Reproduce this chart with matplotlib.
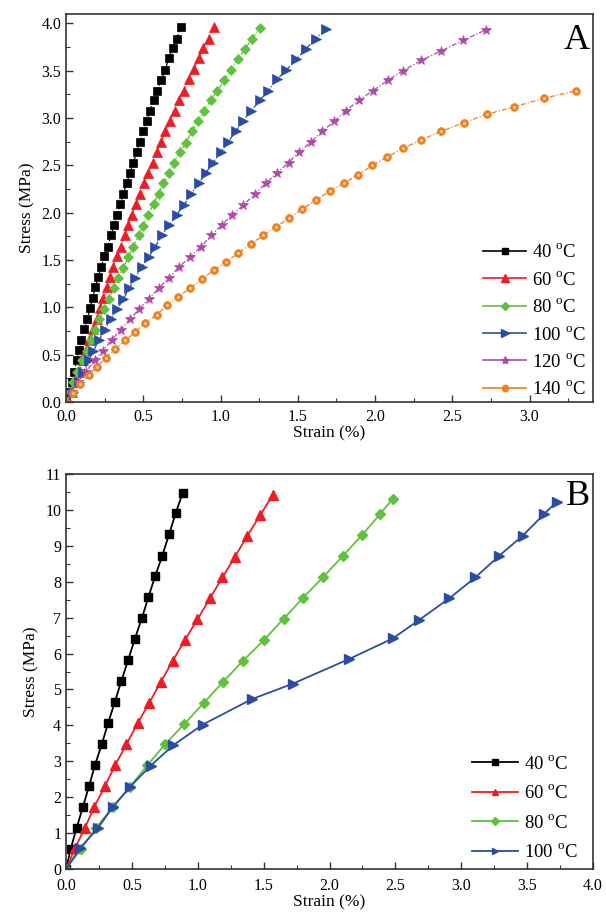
import matplotlib
matplotlib.use("Agg")
import matplotlib.pyplot as plt
from matplotlib.lines import Line2D
from matplotlib.ticker import MultipleLocator, FormatStrFormatter

plt.rcParams['font.family'] = ['Liberation Serif', 'DejaVu Serif']
plt.rcParams['mathtext.fontset'] = 'custom'
plt.rcParams['mathtext.rm'] = 'Liberation Serif'

# ---- panel A: stress-strain at six temperatures ----
a_40_x = [0, 0.021, 0.037, 0.052, 0.069, 0.086, 0.099, 0.116, 0.138, 0.155, 0.172, 0.190, 0.207,
          0.228, 0.248, 0.269, 0.291, 0.312, 0.332, 0.351, 0.371, 0.392, 0.414, 0.435, 0.457,
          0.478, 0.500, 0.521, 0.543, 0.569, 0.590, 0.616, 0.642, 0.664, 0.690, 0.716, 0.741]
a_40_y = [0, 0.11, 0.21, 0.32, 0.44, 0.55, 0.66, 0.77, 0.88, 0.99, 1.10, 1.21, 1.32, 1.43, 1.54,
          1.64, 1.76, 1.87, 1.98, 2.09, 2.20, 2.31, 2.42, 2.53, 2.64, 2.75, 2.86, 2.97, 3.08,
          3.19, 3.29, 3.40, 3.51, 3.63, 3.74, 3.84, 3.96]

a_60_x = [0, 0.039, 0.065, 0.086, 0.108, 0.129, 0.151, 0.177, 0.198, 0.220, 0.241, 0.263, 0.284,
          0.306, 0.328, 0.353, 0.379, 0.403, 0.425, 0.452, 0.478, 0.504, 0.530, 0.560, 0.586,
          0.616, 0.642, 0.672, 0.702, 0.733, 0.763, 0.793, 0.827, 0.858, 0.888, 0.922, 0.957]
a_60_y = [0, 0.11, 0.21, 0.32, 0.44, 0.55, 0.66, 0.77, 0.88, 0.99, 1.10, 1.21, 1.32, 1.43, 1.54,
          1.64, 1.76, 1.87, 1.98, 2.09, 2.20, 2.31, 2.42, 2.53, 2.64, 2.75, 2.86, 2.97, 3.08,
          3.19, 3.29, 3.41, 3.52, 3.63, 3.74, 3.84, 3.96]

a_80_x = [0, 0.026, 0.047, 0.073, 0.103, 0.134, 0.160, 0.187, 0.215, 0.248, 0.280, 0.310, 0.338,
          0.371, 0.403, 0.435, 0.470, 0.500, 0.532, 0.566, 0.599, 0.629, 0.664, 0.698, 0.737,
          0.776, 0.815, 0.853, 0.894, 0.937, 0.980, 1.023, 1.068, 1.113, 1.158, 1.204, 1.252]
a_80_y = [0, 0.11, 0.21, 0.32, 0.44, 0.54, 0.66, 0.76, 0.88, 0.98, 1.09, 1.20, 1.31, 1.42, 1.53,
          1.64, 1.76, 1.86, 1.98, 2.09, 2.20, 2.31, 2.42, 2.53, 2.64, 2.74, 2.86, 2.97, 3.08,
          3.19, 3.29, 3.40, 3.51, 3.62, 3.73, 3.84, 3.95]

a_100_x = [0, 0.047, 0.082, 0.112, 0.147, 0.177, 0.215, 0.250, 0.289, 0.332, 0.371, 0.409, 0.448,
           0.491, 0.534, 0.577, 0.621, 0.668, 0.715, 0.763, 0.810, 0.858, 0.905, 0.950, 1.002,
           1.050, 1.098, 1.146, 1.200, 1.254, 1.310, 1.366, 1.426, 1.491, 1.551, 1.616, 1.681]
a_100_y = [0, 0.11, 0.21, 0.32, 0.44, 0.54, 0.66, 0.76, 0.88, 0.98, 1.09, 1.20, 1.31, 1.43, 1.53,
           1.64, 1.76, 1.87, 1.98, 2.08, 2.20, 2.31, 2.42, 2.53, 2.64, 2.75, 2.86, 2.97, 3.08,
           3.19, 3.29, 3.41, 3.51, 3.62, 3.73, 3.84, 3.94]

a_120_x = [0, 0.037, 0.080, 0.129, 0.185, 0.237, 0.297, 0.353, 0.414, 0.474, 0.534, 0.599, 0.664,
           0.733, 0.802, 0.871, 0.940, 1.008, 1.077, 1.148, 1.222, 1.293, 1.366, 1.440, 1.508,
           1.586, 1.659, 1.737, 1.814, 1.896, 1.987, 2.083, 2.181, 2.299, 2.428, 2.568, 2.715]
a_120_y = [0, 0.11, 0.21, 0.32, 0.44, 0.54, 0.66, 0.76, 0.88, 0.98, 1.09, 1.20, 1.31, 1.43, 1.53,
           1.64, 1.76, 1.87, 1.98, 2.08, 2.20, 2.31, 2.42, 2.53, 2.64, 2.75, 2.86, 2.97, 3.08,
           3.19, 3.29, 3.40, 3.50, 3.61, 3.71, 3.82, 3.93]

a_140_x = [0, 0.043, 0.090, 0.147, 0.198, 0.259, 0.319, 0.384, 0.446, 0.511, 0.586, 0.651, 0.724,
           0.802, 0.877, 0.955, 1.034, 1.114, 1.194, 1.276, 1.357, 1.443, 1.530, 1.616, 1.707,
           1.797, 1.890, 1.982, 2.080, 2.181, 2.299, 2.428, 2.573, 2.723, 2.902, 3.096, 3.301]
a_140_y = [0, 0.10, 0.19, 0.28, 0.37, 0.47, 0.56, 0.65, 0.74, 0.83, 0.92, 1.02, 1.11, 1.20, 1.30,
           1.39, 1.48, 1.57, 1.67, 1.76, 1.85, 1.94, 2.04, 2.13, 2.23, 2.31, 2.40, 2.50, 2.59,
           2.68, 2.77, 2.86, 2.95, 3.04, 3.12, 3.21, 3.29]

# ---- panel B: stress-strain at four temperatures ----
b_40_x = [0, 0.035, 0.081, 0.127, 0.175, 0.220, 0.271, 0.319, 0.369, 0.420, 0.471, 0.521, 0.575,
          0.625, 0.676, 0.731, 0.782, 0.832, 0.886]
b_40_y = [0, 0.56, 1.15, 1.72, 2.31, 2.90, 3.47, 4.06, 4.64, 5.24, 5.81, 6.40, 6.98, 7.57, 8.15,
          8.73, 9.32, 9.91, 10.48]

b_60_x = [0, 0.068, 0.144, 0.215, 0.296, 0.374, 0.458, 0.544, 0.632, 0.721, 0.810, 0.903, 0.997,
          1.093, 1.187, 1.283, 1.376, 1.475, 1.569]
b_60_y = [0, 0.58, 1.15, 1.74, 2.31, 2.90, 3.47, 4.06, 4.63, 5.22, 5.80, 6.38, 6.95, 7.54, 8.12,
          8.70, 9.28, 9.86, 10.42]

b_80_x = [0, 0.112, 0.225, 0.354, 0.486, 0.617, 0.754, 0.898, 1.047, 1.194, 1.341, 1.503, 1.652,
          1.801, 1.951, 2.102, 2.247, 2.383, 2.480]
b_80_y = [0, 0.55, 1.14, 1.72, 2.29, 2.89, 3.48, 4.04, 4.63, 5.22, 5.79, 6.38, 6.97, 7.56, 8.13,
          8.72, 9.30, 9.88, 10.31]

b_100_x = [0, 0.106, 0.240, 0.354, 0.486, 0.643, 0.815, 1.037, 1.410, 1.721, 2.150, 2.480, 2.682,
           2.910, 3.107, 3.287, 3.466, 3.628, 3.724]
b_100_y = [0, 0.58, 1.13, 1.72, 2.29, 2.88, 3.45, 4.02, 4.73, 5.16, 5.85, 6.42, 6.94, 7.54, 8.12,
           8.72, 9.28, 9.88, 10.23]

labels = ['40 $^{\\mathrm{o}}$C', '60 $^{\\mathrm{o}}$C', '80 $^{\\mathrm{o}}$C',
          '100 $^{\\mathrm{o}}$C', '120 $^{\\mathrm{o}}$C', '140 $^{\\mathrm{o}}$C']
colors = ['#000000', '#ee1c25', '#5fc23c', '#2a4da3', '#b04aa8', '#f0801e']
markers = ['s', '^', 'D', '>', '*', 'o']
msizes_a = [5.4, 6.6, 5.2, 6.6, 7.5, 5.6]


def style_axes(ax, xpad=5):
    for sp in ax.spines.values():
        sp.set_color('#333333')
        sp.set_linewidth(1.2)
    ax.tick_params(which='both', direction='in', top=False, right=False,
                   labelsize=11.5, color='#333333')
    ax.tick_params(which='major', length=5, width=1)
    ax.tick_params(which='minor', length=3, width=0.8)
    ax.tick_params(axis='x', which='major', pad=xpad)
    ax.set_xlabel('Strain (%)', fontsize=12.5, labelpad=0)
    ax.set_ylabel('Stress (MPa)', fontsize=12.5, labelpad=4)


fig = plt.figure(figsize=(6.06, 9.13), dpi=100)
ax1 = fig.add_axes([0.109, 0.5597, 0.8695, 0.425])
ax2 = fig.add_axes([0.109, 0.0482, 0.8695, 0.4326])

series_a = [(a_40_x, a_40_y), (a_60_x, a_60_y), (a_80_x, a_80_y),
            (a_100_x, a_100_y), (a_120_x, a_120_y), (a_140_x, a_140_y)]
handles_a = []
for (xs, ys), c, m, ms, lab in zip(series_a, colors, markers, msizes_a, labels):
    ax1.plot(xs, ys, color=c, lw=0.9, ls=(0, (4, 1.5, 1, 1.5)),
             marker=m, ms=ms, mec=c, mfc=c, mew=0.5)
    handles_a.append(Line2D([], [], color=c, lw=1.2, marker=m, ms=ms * 0.8, mfc=c, mec=c, label=lab))

# highlight on the orange spheres
ax1.plot(a_140_x, a_140_y, ls='none', marker='o', ms=2.2, mfc='#fbd2a6', mec='none')

ax1.set_xlim(0, 3.41)
ax1.set_ylim(0, 4.1)
ax1.xaxis.set_major_locator(MultipleLocator(0.5))
ax1.xaxis.set_minor_locator(MultipleLocator(0.25))
ax1.yaxis.set_major_locator(MultipleLocator(0.5))
ax1.yaxis.set_minor_locator(MultipleLocator(0.25))
ax1.xaxis.set_major_formatter(FormatStrFormatter('%.1f'))
ax1.yaxis.set_major_formatter(FormatStrFormatter('%.1f'))
style_axes(ax1)
ax1.legend(handles=handles_a, loc='lower right', frameon=False, fontsize=13.5,
           handlelength=2.3, handletextpad=0.3, labelspacing=0.5,
           borderaxespad=0.0, bbox_to_anchor=(1.0, -0.01))
ax1.text(0.994, 0.975, 'A', transform=ax1.transAxes, ha='right', va='top', fontsize=26)

series_b = [(b_40_x, b_40_y), (b_60_x, b_60_y), (b_80_x, b_80_y), (b_100_x, b_100_y)]
handles_b = []
for (xs, ys), c, m, lab in zip(series_b, colors[:4], markers[:4], labels[:4]):
    ms = 5.4 if m in ('s', 'D') else 6.6
    ax2.plot(xs, ys, color=c, lw=1.3, marker=m, ms=ms, mfc=c, mec=c)
    handles_b.append(Line2D([], [], color=c, lw=1.3, marker=m, ms=ms * 0.75, mfc=c, mec=c, label=lab))

ax2.set_xlim(0, 4.0)
ax2.set_ylim(0, 11)
ax2.xaxis.set_major_locator(MultipleLocator(0.5))
ax2.xaxis.set_minor_locator(MultipleLocator(0.25))
ax2.yaxis.set_major_locator(MultipleLocator(1))
ax2.yaxis.set_minor_locator(MultipleLocator(0.5))
ax2.xaxis.set_major_formatter(FormatStrFormatter('%.1f'))
style_axes(ax2, xpad=6.5)
ax2.legend(handles=handles_b, loc='lower right', frameon=False, fontsize=13.5,
           handlelength=2.5, handletextpad=0.3, labelspacing=0.62,
           borderaxespad=0.0, bbox_to_anchor=(0.985, 0.0))
ax2.text(0.994, 0.985, 'B', transform=ax2.transAxes, ha='right', va='top', fontsize=26)

fig.savefig('out.png', dpi=100)
